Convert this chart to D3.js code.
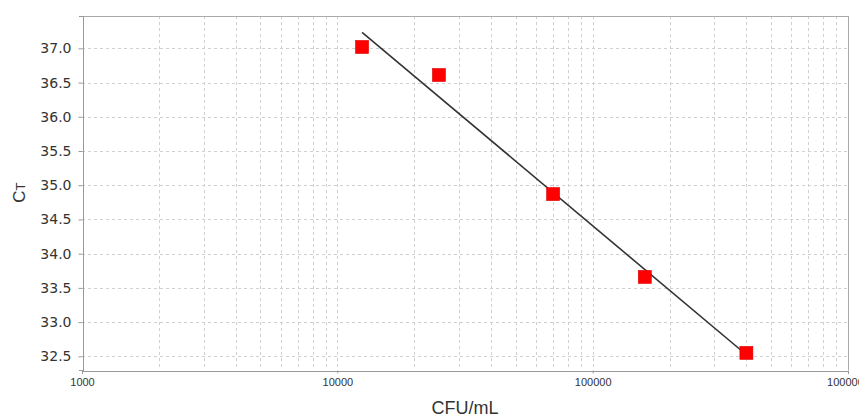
<!DOCTYPE html>
<html>
<head>
<meta charset="utf-8">
<script src="https://cdn.jsdelivr.net/npm/d3@7"></script>
<style>
  body { margin: 0; background: #fff; }
  #chart { width: 859px; height: 418px; }
</style>
</head>
<body>
<div id="chart"></div>
<script>
// Data
const cfu = [12500, 25000, 70000, 160000, 400000];
const ct = [37.02, 36.61, 34.87, 33.66, 32.55];
const xTicks = [1000, 10000, 100000, 1000000];
const yTicks = [32.5, 33.0, 33.5, 34.0, 34.5, 35.0, 35.5, 36.0, 36.5, 37.0];

const width = 859, height = 418;
const margin = {top: 15.5, right: 11, bottom: 48, left: 82};

const svg = d3.select("#chart").append("svg")
    .attr("width", width)
    .attr("height", height);

// Scales
const x = d3.scaleLog()
    .domain([1000, 1000000])
    .range([margin.left, width - margin.right]);

const y = d3.scaleLinear()
    .domain([32.3, 37.48])
    .range([height - margin.bottom, margin.top]);

// Minor log grid: 1..9 for every decade
const gridX = [];
for (let d = 1000; d < 1000000; d *= 10) {
    for (let k = 1; k < 10; k++) gridX.push(d * k);
}

const grid = svg.append("g")
    .attr("stroke", "#d0d0d0")
    .attr("stroke-dasharray", "3,3")
    .attr("shape-rendering", "crispEdges");

grid.selectAll(".gx")
    .data(gridX.filter(v => v > 1000))
    .join("line")
    .attr("x1", d => Math.round(x(d)) + 0.5)
    .attr("x2", d => Math.round(x(d)) + 0.5)
    .attr("y1", y.range()[1])
    .attr("y2", y.range()[0]);

grid.selectAll(".gy")
    .data(yTicks)
    .join("line")
    .attr("x1", x.range()[0])
    .attr("x2", x.range()[1])
    .attr("y1", d => Math.round(y(d)) + 0.5)
    .attr("y2", d => Math.round(y(d)) + 0.5);

// Plot outline (top and right)
svg.append("path")
    .attr("fill", "none")
    .attr("stroke", "#aaa")
    .attr("shape-rendering", "crispEdges")
    .attr("d", `M${x.range()[0]},${Math.round(y.range()[1]) + 0.5}H${Math.round(x.range()[1]) + 0.5}V${y.range()[0]}`);

// Axes
const yAxis = svg.append("g")
    .attr("transform", `translate(${margin.left + 0.5},0)`)
    .call(d3.axisLeft(y).tickValues(yTicks).tickSize(4).tickPadding(7).tickFormat(d3.format(".1f")));

const xAxis = svg.append("g")
    .attr("transform", `translate(0,${height - margin.bottom + 0.5})`)
    .call(d3.axisBottom(x).tickValues(xTicks).tickSize(3).tickPadding(5).tickFormat(d => d));

[xAxis, yAxis].forEach(a => {
    a.select(".domain").attr("stroke", "#999").attr("shape-rendering", "crispEdges");
    a.selectAll(".tick line").attr("stroke", "#999");
});
yAxis.selectAll("text")
    .attr("fill", "#333")
    .style("font-family", "'DejaVu Sans', sans-serif")
    .style("font-size", "14px");
xAxis.selectAll("text")
    .attr("fill", "#333")
    .style("font-family", "'Liberation Sans', Arial, sans-serif")
    .style("font-size", "11px");

// Axis labels
svg.append("text")
    .attr("x", (x.range()[0] + x.range()[1]) / 2)
    .attr("y", 414)
    .attr("text-anchor", "middle")
    .attr("fill", "#333")
    .style("font-family", "'Liberation Sans', Arial, sans-serif")
    .style("font-size", "18px")
    .text("CFU/mL");

const yLabel = svg.append("text")
    .attr("transform", `translate(25,${(y.range()[0] + y.range()[1]) / 2}) rotate(-90)`)
    .attr("text-anchor", "middle")
    .attr("fill", "#333")
    .style("font-family", "'Liberation Sans', Arial, sans-serif")
    .style("font-size", "17px");
yLabel.append("tspan").text("C");
yLabel.append("tspan").style("font-size", "13px").text("T");

// Least-squares fit of Ct against log10(CFU)
const lx = cfu.map(Math.log10);
const mx = d3.mean(lx), my = d3.mean(ct);
const slope = d3.sum(lx, (v, i) => (v - mx) * (ct[i] - my)) / d3.sum(lx, v => (v - mx) ** 2);
const intercept = my - slope * mx;
const fitX = d3.extent(cfu);

svg.append("line")
    .attr("x1", x(fitX[0]))
    .attr("y1", y(intercept + slope * Math.log10(fitX[0])))
    .attr("x2", x(fitX[1]))
    .attr("y2", y(intercept + slope * Math.log10(fitX[1])))
    .attr("stroke", "#333")
    .attr("stroke-width", 1.6);

// Points
const s = 13;
svg.append("g")
    .selectAll("rect")
    .data(cfu.map((c, i) => ({c, v: ct[i]})))
    .join("rect")
    .attr("x", d => x(d.c) - s / 2)
    .attr("y", d => y(d.v) - s / 2)
    .attr("width", s)
    .attr("height", s)
    .attr("fill", "#f00")
    .attr("stroke", "#d00")
    .attr("stroke-width", 0.6);
</script>
</body>
</html>
